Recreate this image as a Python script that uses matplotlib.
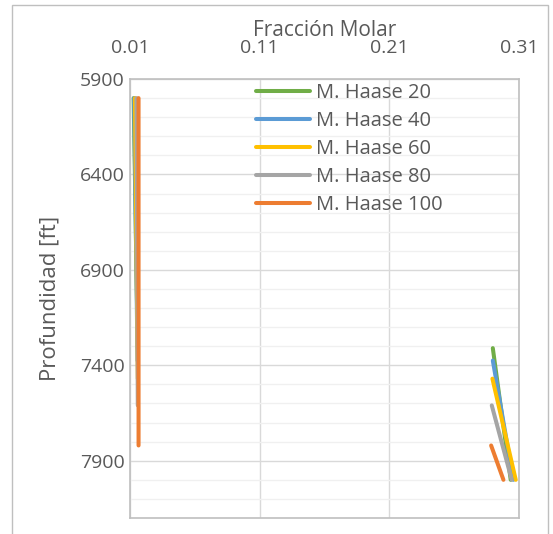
import numpy as np
import matplotlib
matplotlib.use("Agg")
import matplotlib.pyplot as plt
from matplotlib.patches import Rectangle

NAN = np.nan

# Each series: upper segment near 0.01, then a gap, then a lower segment near 0.30
LABELS = ["M. Haase 20", "M. Haase 40", "M. Haase 60", "M. Haase 80", "M. Haase 100"]
COLORS = ["#70AD47", "#5B9BD5", "#FFC000", "#A5A5A5", "#ED7D31"]

X_20 = [0.0128, 0.0160, NAN, 0.2898, 0.3036]
Y_20 = [6000, 7310, NAN, 7310, 8000]
X_40 = [0.0132, 0.0158, NAN, 0.2898, 0.3057]
Y_40 = [6000, 7375, NAN, 7375, 8000]
X_60 = [0.0138, 0.0160, NAN, 0.2895, 0.3075]
Y_60 = [6000, 7470, NAN, 7470, 8000]
X_80 = [0.0150, 0.0160, NAN, 0.2890, 0.3044]
Y_80 = [6000, 7610, NAN, 7610, 8000]
X_100 = [0.0166, 0.0166, NAN, 0.2885, 0.2980]
Y_100 = [6000, 7820, NAN, 7820, 8000]

SERIES_X = [X_20, X_40, X_60, X_80, X_100]
SERIES_Y = [Y_20, Y_40, Y_60, Y_80, Y_100]

X_TICKS = [0.01, 0.11, 0.21, 0.31]
Y_TICKS = [5900, 6400, 6900, 7400, 7900]

plt.rcParams["font.family"] = ["Open Sans", "DejaVu Sans"]
txt = "#595959"

fig = plt.figure(figsize=(5.53, 5.34), dpi=100)
ax = fig.add_axes([130 / 553, 1 - 518 / 534, 389 / 553, 439 / 534])

# outer chart border
fig.patches.append(Rectangle((12 / 553, -0.05), 536 / 553, 1 - 5 / 534 + 0.05,
                             transform=fig.transFigure, fill=False,
                             edgecolor="#bfbfbf", lw=1.0))

for xs, ys, c, lab in zip(SERIES_X, SERIES_Y, COLORS, LABELS):
    ax.plot(xs, ys, color=c, lw=2.9, solid_capstyle="round", label=lab, zorder=3)

ax.set_xlim(0.01, 0.31)
ax.set_ylim(8200, 5900)
ax.xaxis.tick_top()
ax.xaxis.set_label_position("top")
ax.set_xticks(X_TICKS)
ax.set_xticklabels([f"{v:.2f}" for v in X_TICKS])
ax.set_yticks(Y_TICKS)
ax.set_yticks(np.arange(5900, 8201, 100), minor=True)
ax.tick_params(axis="both", length=0, labelsize=14, colors=txt)
ax.tick_params(axis="x", pad=16)
ax.tick_params(axis="y", pad=4)
ax.tick_params(which="minor", length=0)
ax.grid(which="major", color="#d9d9d9", lw=1.0, zorder=0)
ax.grid(which="minor", axis="y", color="#f0f0f0", lw=1.0, zorder=0)
for s in ax.spines.values():
    s.set_color("#bfbfbf")
    s.set_linewidth(1.2)

ax.set_xlabel("Fracción Molar", fontsize=15, color=txt, labelpad=2)
ax.set_ylabel("Profundidad [ft]", fontsize=16, color=txt, labelpad=14)

leg = ax.legend(loc="upper left", bbox_to_anchor=(256 / 553, 1 - 83 / 534),
                bbox_transform=fig.transFigure, frameon=False, fontsize=14.5,
                handlelength=2.7, handletextpad=0.3, labelspacing=0.40,
                borderpad=0, borderaxespad=0)
for t in leg.get_texts():
    t.set_color(txt)

fig.savefig("out.png", dpi=100)
